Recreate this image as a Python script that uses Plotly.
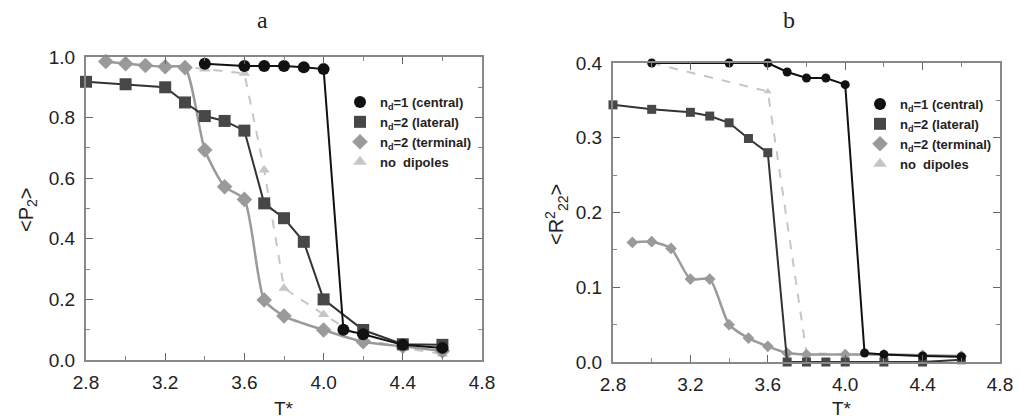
import plotly.graph_objects as go

# ---------------- Panel a: <P2> vs T* ----------------
a_central_T = [3.4, 3.6, 3.7, 3.8, 3.9, 4.0, 4.1, 4.2, 4.4, 4.6]
a_central_P = [0.978, 0.970, 0.970, 0.970, 0.966, 0.960, 0.10, 0.085, 0.05, 0.04]

a_lateral_T = [2.8, 3.0, 3.2, 3.3, 3.4, 3.5, 3.6, 3.7, 3.8, 3.9, 4.0, 4.2, 4.4, 4.6]
a_lateral_P = [0.918, 0.910, 0.900, 0.850, 0.805, 0.789, 0.757, 0.517, 0.468, 0.390, 0.200, 0.099, 0.052, 0.050]

a_terminal_T = [2.9, 3.0, 3.1, 3.2, 3.3, 3.4, 3.5, 3.6, 3.7, 3.8, 4.0, 4.2, 4.4, 4.6]
a_terminal_P = [0.985, 0.978, 0.972, 0.968, 0.965, 0.693, 0.572, 0.530, 0.198, 0.145, 0.099, 0.060, 0.045, 0.030]

a_nodip_T = [2.9, 3.0, 3.2, 3.4, 3.6, 3.7, 3.8, 4.0, 4.2, 4.4, 4.6]
a_nodip_P = [0.985, 0.980, 0.975, 0.960, 0.946, 0.627, 0.237, 0.150, 0.070, 0.040, 0.020]

# ---------------- Panel b: <R^2_22> vs T* ----------------
b_central_T = [3.0, 3.4, 3.6, 3.7, 3.8, 3.9, 4.0, 4.1, 4.2, 4.4, 4.6]
b_central_R = [0.400, 0.400, 0.400, 0.388, 0.380, 0.380, 0.371, 0.012, 0.010, 0.008, 0.007]

b_lateral_T = [2.8, 3.0, 3.2, 3.3, 3.4, 3.5, 3.6, 3.7, 3.8, 3.9, 4.0, 4.2, 4.4, 4.6]
b_lateral_R = [0.344, 0.338, 0.334, 0.329, 0.320, 0.299, 0.280, 0.0, 0.0, 0.0, 0.0, 0.0, 0.0, 0.003]

b_terminal_T = [2.9, 3.0, 3.1, 3.2, 3.3, 3.4, 3.5, 3.6, 3.7, 3.8, 4.0, 4.2, 4.4, 4.6]
b_terminal_R = [0.160, 0.161, 0.152, 0.111, 0.111, 0.050, 0.032, 0.021, 0.012, 0.010, 0.010, 0.010, 0.009, 0.008]

b_nodip_T = [3.0, 3.6, 3.8, 4.0, 4.2, 4.4, 4.6]
b_nodip_R = [0.400, 0.362, 0.012, 0.010, 0.010, 0.008, 0.007]

legend_names = ["n<sub>d</sub>=1 (central)", "n<sub>d</sub>=2 (lateral)",
                "n<sub>d</sub>=2 (terminal)", "no  dipoles"]

x_ticks = [2.8, 3.2, 3.6, 4.0, 4.4, 4.8]
a_yticks = [0.0, 0.2, 0.4, 0.6, 0.8, 1.0]
b_yticks = [0.0, 0.1, 0.2, 0.3, 0.4]

C_CENTRAL = "#111111"
C_LATERAL = "#474747"
C_TERMINAL = "#9a9a9a"
C_NODIP = "#c6c6c6"

fig = go.Figure()

def add_panel(xa, ya, nodip, terminal, lateral, central, msize, legend):
    fig.add_trace(go.Scatter(x=nodip[0], y=nodip[1], mode="lines+markers",
                             line=dict(color=C_NODIP, width=2, dash="dash"),
                             marker=dict(symbol="triangle-up", size=msize - 2, color=C_NODIP),
                             xaxis=xa, yaxis=ya, showlegend=False, cliponaxis=False))
    fig.add_trace(go.Scatter(x=terminal[0], y=terminal[1], mode="lines+markers",
                             line=dict(color=C_TERMINAL, width=2.5, shape="spline", smoothing=0.6),
                             marker=dict(symbol="diamond", size=msize, color=C_TERMINAL),
                             xaxis=xa, yaxis=ya, showlegend=False, cliponaxis=False))
    fig.add_trace(go.Scatter(x=lateral[0], y=lateral[1], mode="lines+markers",
                             line=dict(color="#333333", width=2),
                             marker=dict(symbol="square", size=msize, color=C_LATERAL),
                             xaxis=xa, yaxis=ya, showlegend=False, cliponaxis=False))
    fig.add_trace(go.Scatter(x=central[0], y=central[1], mode="lines+markers",
                             line=dict(color=C_CENTRAL, width=2),
                             marker=dict(symbol="circle", size=msize, color=C_CENTRAL),
                             xaxis=xa, yaxis=ya, showlegend=False, cliponaxis=False))
    # legend-only entries (markers only, like the original)
    for name, sym, col in zip(legend_names,
                              ["circle", "square", "diamond", "triangle-up"],
                              [C_CENTRAL, C_LATERAL, C_TERMINAL, C_NODIP]):
        fig.add_trace(go.Scatter(x=[None], y=[None], mode="markers", name=name,
                                 marker=dict(symbol=sym, size=10, color=col),
                                 xaxis=xa, yaxis=ya, legend=legend))

add_panel("x", "y", (a_nodip_T, a_nodip_P), (a_terminal_T, a_terminal_P),
          (a_lateral_T, a_lateral_P), (a_central_T, a_central_P), 12, "legend")
add_panel("x2", "y2", (b_nodip_T, b_nodip_R), (b_terminal_T, b_terminal_R),
          (b_lateral_T, b_lateral_R), (b_central_T, b_central_R), 9, "legend2")

# page is shown with the browser's default 8px body margin -> compensate
OFF = 8
W, H = 1021 - OFF, 419 - OFF

def px(X):
    return (X - OFF) / W

def py(Y):
    return 1 - (Y - OFF) / H

FONT = "Liberation Sans, Arial"
tick_font = dict(family=FONT, size=19, color="#222222")

def xaxis_cfg(x0, x1, y_anchor):
    return dict(domain=[px(x0), px(x1)], range=[2.8, 4.8], tickvals=x_ticks,
                ticktext=[f"{v:.1f}" for v in x_ticks], ticks="inside", ticklen=7,
                tickcolor="#666", showline=True, linecolor="#888", linewidth=2,
                mirror="allticks", showgrid=False, zeroline=False, tickfont=tick_font,
                minor=dict(dtick=0.2, ticks="inside", ticklen=4, tickcolor="#888"),
                anchor=y_anchor, automargin=False, ticklabelstandoff=4)

def yaxis_cfg(y_top, y_bot, ticks, minor_dt, x_anchor):
    return dict(domain=[py(y_bot), py(y_top)], range=[0, ticks[-1]],
                tickvals=ticks, ticktext=[f"{v:.1f}" for v in ticks],
                ticks="inside", ticklen=7, tickcolor="#666", showline=True,
                linecolor="#888", linewidth=2, mirror="allticks", showgrid=False,
                zeroline=False, tickfont=tick_font, anchor=x_anchor, automargin=False,
                minor=dict(dtick=minor_dt, ticks="inside", ticklen=4, tickcolor="#888"),
                ticklabelstandoff=5)

legend_font = dict(family=FONT, size=13, color="#222", weight="bold")

def ann(text, X, Y, size, family=FONT, angle=0):
    return dict(text=text, x=px(X), y=py(Y), xref="paper", yref="paper",
                xanchor="center", yanchor="middle", showarrow=False, textangle=angle,
                font=dict(family=family, size=size, color="#222"))

fig.update_layout(
    width=W, height=H, margin=dict(l=0, r=0, t=0, b=0),
    paper_bgcolor="white", plot_bgcolor="white",
    xaxis=xaxis_cfg(86, 482, "y"),
    yaxis=yaxis_cfg(57, 360, a_yticks, 0.1, "x"),
    xaxis2=xaxis_cfg(613, 1000, "y2"),
    yaxis2=yaxis_cfg(63, 362, b_yticks, 0.05, "x2"),
    legend=dict(x=px(340), y=py(87), xanchor="left", yanchor="top",
                bgcolor="rgba(0,0,0,0)", font=legend_font,
                itemsizing="constant", tracegroupgap=0, itemwidth=30),
    legend2=dict(x=px(860), y=py(89), xanchor="left", yanchor="top",
                 bgcolor="rgba(0,0,0,0)", font=legend_font,
                 itemsizing="constant", tracegroupgap=0, itemwidth=30),
    annotations=[
        ann("a", 262, 20, 24, "Liberation Serif, serif"),
        ann("b", 789, 20, 24, "Liberation Serif, serif"),
        ann("T*", 284, 408, 19),
        ann("T*", 842, 408, 19),
        ann("&lt;P<sub>2</sub>&gt;", 27, 210, 20, angle=-90),
        ann("&lt;R<sup>2</sup><sub>22</sub>&gt;", 556, 215, 20, angle=-90),
    ],
)

fig.write_html("out.html")
